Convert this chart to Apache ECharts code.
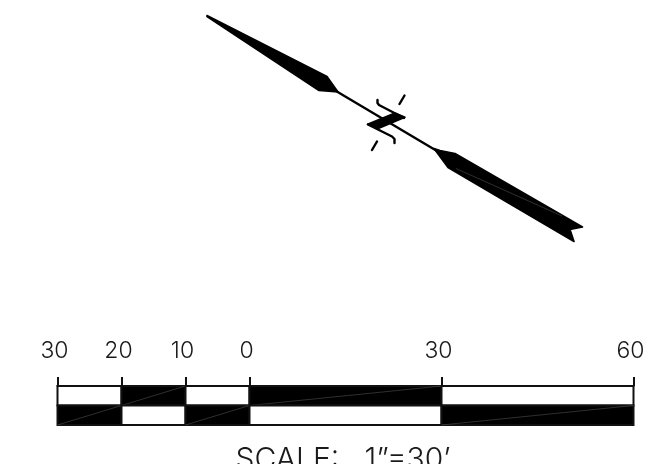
<!DOCTYPE html>
<html><head><meta charset="utf-8">
<style>html,body{margin:0;padding:0;background:#fff}#c{width:654px;height:464px}</style>
<script src="https://cdn.jsdelivr.net/npm/echarts@6/dist/echarts.min.js"></script>
</head><body><div id="c"></div>
<script>
// Scale bar: tick positions in feet and their labels
const scaleTicks = [-30, -20, -10, 0, 30, 60];
const tickLabels = ['30', '20', '10', '0', '30', '60'];
// Scale bar cells: [from, to, row (1 = top, 0 = bottom), filled]
const scaleCells = [
  [-30, -20, 1, 0], [-20, -10, 1, 1], [-10, 0, 1, 0], [0, 30, 1, 1], [30, 60, 1, 0],
  [-30, -20, 0, 1], [-20, -10, 0, 0], [-10, 0, 0, 1], [0, 30, 0, 0], [30, 60, 0, 1]
];
const scaleTitle = 'SCALE:   1\u201D=30\u2019';
// North arrow outline
const featherTail = [[207, 15.5], [327, 76.5], [338, 92], [319, 90.5], [207, 16.5]];
const featherHead = [[434, 148.5], [440, 150.5], [455, 153.5], [582.5, 227], [570, 229.5], [574, 241.5], [448, 167.5]];
const breakMark = [[367.5, 124.3], [395, 113], [405, 117.3], [378.3, 128.5]];
const shaftLine = [[336, 91], [437, 151]];
const bracketUpper = [[377.5, 100], [377.5, 103], [379, 105], [404, 118]];
const bracketLower = [[368, 124.5], [392, 136.5], [394.5, 139], [394.5, 143]];
const dashUpper = [[404.5, 95.5], [399.5, 104]];
const dashLower = [[377, 141.5], [372, 150]];
const headHairline = [[456, 168.5], [562, 216]];

const fills = [featherTail, featherHead, breakMark];
const strokes = [shaftLine, bracketUpper, bracketLower, dashUpper, dashLower];

const chart = echarts.init(document.getElementById('c'), null, { renderer: 'canvas' });

function mapPts(api, pts) { return pts.map(p => api.coord(p)); }

chart.setOption({
  animation: false,
  backgroundColor: '#fff',
  title: {
    text: scaleTitle, left: 338, top: 440, textAlign: 'center',
    textStyle: { fontFamily: 'Inter', fontWeight: 300, fontSize: 30, color: '#1a1a1a' }
  },
  grid: [
    { left: 0, top: 0, width: 654, height: 464 },
    { left: 57.5, top: 386, width: 576, height: 39 }
  ],
  xAxis: [
    { gridIndex: 0, type: 'value', min: 0, max: 654, show: false },
    {
      gridIndex: 1, type: 'value', min: -30, max: 60, position: 'top',
      splitLine: { show: false },
      axisLine: { show: true, onZero: false, lineStyle: { color: '#111', width: 2 } },
      axisTick: { show: true, customValues: scaleTicks, length: 9, inside: false, lineStyle: { color: '#111', width: 2 } },
      axisLabel: {
        show: true, customValues: scaleTicks, margin: 23, padding: [0, 6, 0, 0],
        fontFamily: 'Inter', fontWeight: 300, fontSize: 23, color: '#1a1a1a',
        formatter: v => tickLabels[scaleTicks.indexOf(v)]
      }
    }
  ],
  yAxis: [
    { gridIndex: 0, type: 'value', min: 0, max: 464, inverse: true, show: false },
    { gridIndex: 1, type: 'value', min: 0, max: 2, show: false }
  ],
  series: [
    {
      type: 'custom', xAxisIndex: 0, yAxisIndex: 0, coordinateSystem: 'cartesian2d', clip: false,
      data: fills.map((_, i) => [i]),
      encode: { x: 0 },
      renderItem: (params, api) => {
        const i = api.value(0);
        return { type: 'polygon', shape: { points: mapPts(api, fills[i]) }, style: { fill: '#000', stroke: '#000', lineWidth: 1.6, lineJoin: 'round' } };
      },
      silent: true
    },
    {
      type: 'custom', xAxisIndex: 0, yAxisIndex: 0, coordinateSystem: 'cartesian2d', clip: false,
      data: strokes.map((_, i) => [i]),
      encode: { x: 0 },
      renderItem: (params, api) => {
        const i = api.value(0);
        return {
          type: 'polyline', shape: { points: mapPts(api, strokes[i]) },
          style: { stroke: '#000', fill: 'none', lineWidth: 2.4, lineCap: 'round', lineJoin: 'round' }
        };
      },
      silent: true
    },
    {
      type: 'custom', xAxisIndex: 0, yAxisIndex: 0, coordinateSystem: 'cartesian2d', clip: false,
      data: [[0]],
      encode: { x: 0 },
      renderItem: (params, api) => ({
        type: 'polyline', shape: { points: mapPts(api, headHairline) },
        style: { stroke: '#777', fill: 'none', lineWidth: 0.4 }
      }),
      silent: true
    },
    {
      type: 'custom', xAxisIndex: 1, yAxisIndex: 1, coordinateSystem: 'cartesian2d', clip: false,
      data: scaleCells,
      encode: { x: [0, 1], y: 2 },
      renderItem: (params, api) => {
        const x0 = api.value(0), x1 = api.value(1), r = api.value(2), f = api.value(3);
        const a = api.coord([x0, r]), b = api.coord([x1, r + 1]);
        const children = [{
          type: 'rect',
          shape: { x: a[0], y: b[1], width: b[0] - a[0], height: a[1] - b[1] },
          style: { fill: f ? '#000' : '#fff', stroke: '#111', lineWidth: 2 }
        }];
        if (f) children.push({
          type: 'line',
          shape: { x1: a[0], y1: a[1], x2: b[0], y2: b[1] },
          style: { stroke: '#888', lineWidth: 0.35 }
        });
        return { type: 'group', children };
      },
      silent: true
    }
  ]
});
</script></body></html>
